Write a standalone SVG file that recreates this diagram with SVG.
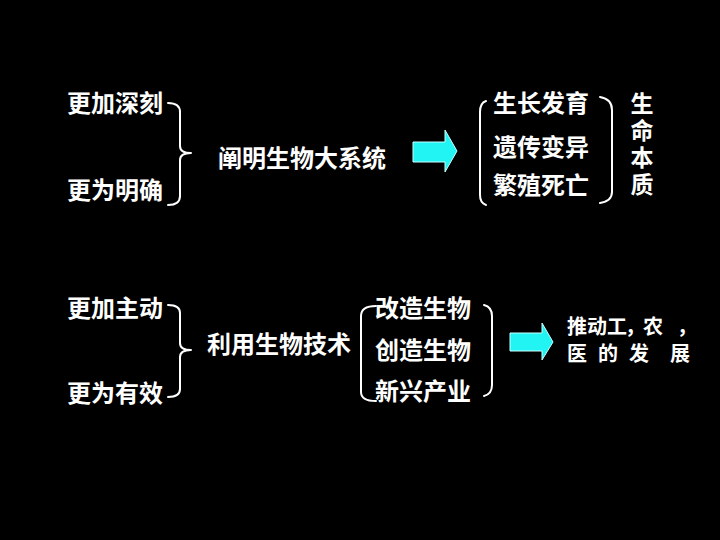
<svg xmlns="http://www.w3.org/2000/svg" width="720" height="540" viewBox="0 0 720 540">
<style>
text{font-family:"Noto Sans CJK SC","Noto Sans CJK TC",sans-serif;font-weight:bold;fill:#fff;font-size:24px}
.s{font-size:20px}
.v{writing-mode:vertical-rl;font-size:23px;letter-spacing:4px}
.br{fill:none;stroke:#fff;stroke-width:2;stroke-linecap:round;stroke-linejoin:round}
.ar{fill:#22f4f4;stroke:#c8ffff;stroke-width:1}
</style>
<rect width="720" height="540" fill="#000"/>
<g id="connectors">
<path class="br" d="M168,103 Q180,103 180,112 L180,146 Q180,153 191,153 Q180,153 180,160 L180,196 Q180,205 168,205"/>
<path class="br" d="M486,101 Q480,103 480,112 L480,195 Q480,203 486,205"/>
<path class="br" d="M600,97 Q612,99 612,110 L612,192 Q612,201 600,203"/>
<path class="ar" d="M413,142 L445,142 L445,130 L457,151 L445,172 L445,162 L413,162 Z"/>
<path class="br" d="M168,305 Q180,305 180,313 L180,343 Q180,350 191,350 Q180,350 180,357 L180,389 Q180,397 168,397"/>
<path class="br" d="M376,306 Q361,306 361,316 L361,392 Q361,401 376,401"/>
<path class="br" d="M484,305 Q492,307 492,316 L492,385 Q492,394 484,396"/>
<path class="ar" d="M510,333 L542,333 L542,323 L553,342 L542,360 L542,351 L510,351 Z"/>
</g>
<g id="n1"><text x="67" y="112">更加深刻</text></g>
<g id="n2"><text x="67" y="199">更为明确</text></g>
<g id="n3"><text x="218" y="167">阐明生物大系统</text></g>
<g id="n4"><text x="493" y="112">生长发育</text></g>
<g id="n5"><text x="493" y="156">遗传变异</text></g>
<g id="n6"><text x="493" y="194">繁殖死亡</text></g>
<g id="n7"><text class="v" x="642" y="92">生命本质</text></g>
<g id="n8"><text x="67" y="317">更加主动</text></g>
<g id="n9"><text x="67" y="402">更为有效</text></g>
<g id="n10"><text x="207" y="353">利用生物技术</text></g>
<g id="n11"><text x="375" y="317">改造生物</text></g>
<g id="n12"><text x="375" y="359">创造生物</text></g>
<g id="n13"><text x="375" y="400">新兴产业</text></g>
<g id="n14"><text class="s" x="567 587 607 625 643 677" y="334">推动工，农，</text><text class="s" xml:space="preserve" x="567 587 598 618 629 649 670" y="361">医 的 发 展</text></g>
</svg>
